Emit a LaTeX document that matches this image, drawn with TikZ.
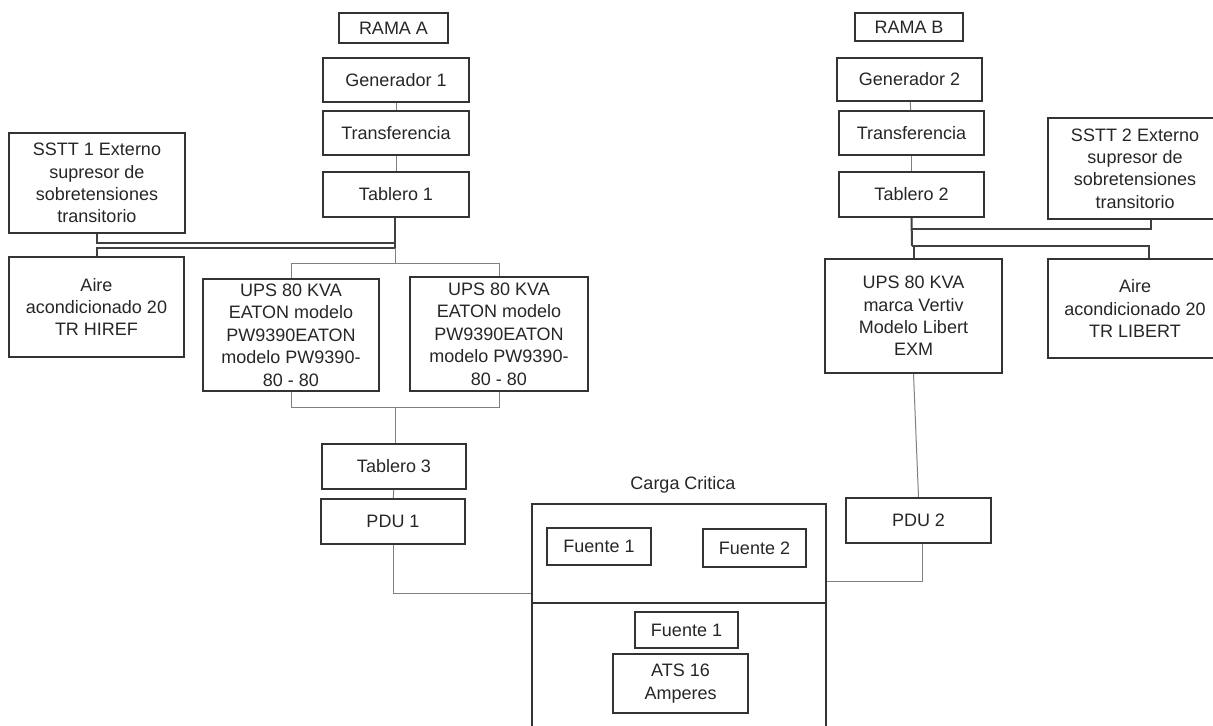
\documentclass[tikz,border=0pt]{standalone}
\usepackage{fontspec}
\setmainfont{Liberation Sans}
\usetikzlibrary{positioning}
\tikzset{
  caja/.style = {draw=black!80, line width=0.8pt, align=center, inner sep=0pt,
    text=black!85, font=\fontsize{9}{11.2}\selectfont},
  txt/.style = {text=black!85, font=\fontsize{9}{11.2}\selectfont},
  linea/.style = {draw=black!50, line width=0.5pt},
  gruesa/.style = {draw=black!75, line width=1pt},
}
\begin{document}
\begin{tikzpicture}[x=0.5pt, y=-0.5pt]
\useasboundingbox (0,0) rectangle (1213,725);

% rama A
\node [caja, minimum width=54.5pt, minimum height=15pt] (ramaA) at (393.5,28) {RAMA A};
\node [caja, minimum width=73pt, minimum height=22pt] (gen1) at (396,80) {Generador 1};
\node [caja, minimum width=73pt, minimum height=22pt] (trans1) at (396,133) {Transferencia};
\node [caja, minimum width=73pt, minimum height=22.5pt] (tab1) at (396,194.5) {Tablero 1};
\node [caja, minimum width=88pt, minimum height=50pt] (sstt1) at (97,183)
  {SSTT 1 Externo\\supresor de\\sobretensiones\\transitorio};
\node [caja, minimum width=87.5pt, minimum height=50pt] (aire1) at (96.5,307)
  {Aire\\acondicionado 20\\TR HIREF};
\node [caja, minimum width=88pt, minimum height=56pt] (upsA1) at (291,335)
  {UPS 80 KVA\\EATON modelo\\PW9390EATON\\modelo PW9390-\\80 - 80};
\node [caja, minimum width=89pt, minimum height=57pt] (upsA2) at (499,334)
  {UPS 80 KVA\\EATON modelo\\PW9390EATON\\modelo PW9390-\\80 - 80};
\node [caja, minimum width=72pt, minimum height=22.5pt] (tab3) at (394,466.5) {Tablero 3};
\node [caja, minimum width=72pt, minimum height=22.5pt] (pdu1) at (393,521.5) {PDU 1};

% rama B
\node [caja, minimum width=54pt, minimum height=14pt] (ramaB) at (909,27) {RAMA B};
\node [caja, minimum width=72.5pt, minimum height=21.5pt] (gen2) at (909.5,79.5) {Generador 2};
\node [caja, minimum width=72.5pt, minimum height=22pt] (trans2) at (911.5,133) {Transferencia};
\node [caja, minimum width=72.5pt, minimum height=22.5pt] (tab2) at (911.5,194.5) {Tablero 2};
\node [caja, minimum width=87pt, minimum height=50.5pt] (sstt2) at (1135,168.5)
  {SSTT 2 Externo\\supresor de\\sobretensiones\\transitorio};
\node [caja, minimum width=88.5pt, minimum height=57pt] (upsB) at (913.5,316)
  {UPS 80 KVA\\marca Vertiv\\Modelo Libert\\EXM};
\node [caja, minimum width=87pt, minimum height=49.5pt] (aireB) at (1135,308.5)
  {Aire\\acondicionado 20\\TR LIBERT};
\node [caja, minimum width=72.5pt, minimum height=22.5pt] (pdu2) at (918.5,520.5) {PDU 2};

% carga critica
\node [txt] (cargalbl) at (683,485) {Carga Critica};
\node [caja, minimum width=147pt, minimum height=115.5pt] (carga) at (679,619.5) {};
\node [caja, minimum width=52pt, minimum height=18.5pt] (fte1) at (599,546.5) {Fuente 1};
\node [caja, minimum width=51.5pt, minimum height=19pt] (fte2) at (754.5,548) {Fuente 2};
\node [caja, minimum width=51.5pt, minimum height=18pt] (fte1b) at (686.5,630) {Fuente 1};
\node [caja, minimum width=67.5pt, minimum height=29.5pt] (ats) at (680.5,683.5) {ATS 16\\Amperes};

\coordinate (divy) at (0,603);
\coordinate (jA1) at (395,243);
\coordinate (jA2) at (395,248);
\coordinate (jA3) at (395,263);
\coordinate (jA4) at (395,407);
\coordinate (jB1) at (912,229);
\coordinate (jB2) at (912,246);
\coordinate (jC1) at (393,593);
\coordinate (jC2) at (0,581);

\draw [caja] (carga.west |- divy) -- (carga.east |- divy);

\draw [linea] (gen1) -- (trans1);
\draw [linea] (trans1) -- (tab1);
\draw [gruesa] (tab1.south -| jA2) -- (jA2);
\draw [gruesa] (sstt1.south) |- (jA1);
\draw [gruesa] (aire1.north) |- (jA2);
\draw [linea] (jA2) -- (jA3);
\draw [linea] (upsA1.north) |- (jA3) -| (upsA2.north);
\draw [linea] (upsA1.south) |- (jA4) -| (upsA2.south);
\draw [linea] (jA4) -- (tab3.north -| jA4);
\draw [linea] (tab3) -- (pdu1);
\draw [linea] (pdu1.south) -- (jC1) -- (jC1 -| carga.west);

\draw [linea] (gen2) -- (trans2);
\draw [linea] (trans2) -- (tab2);
\draw [gruesa] (tab2.south) -- (jB2);
\draw [gruesa] (jB1) -| ([xshift=8pt]sstt2.south);
\draw [gruesa] (upsB.north) |- (jB2) -| ([xshift=7pt]aireB.north);
\draw [linea] (upsB.south) -- (pdu2.north);
\draw [linea] ([xshift=2pt]pdu2.south) |- (jC2 -| carga.east);
\end{tikzpicture}
\end{document}
